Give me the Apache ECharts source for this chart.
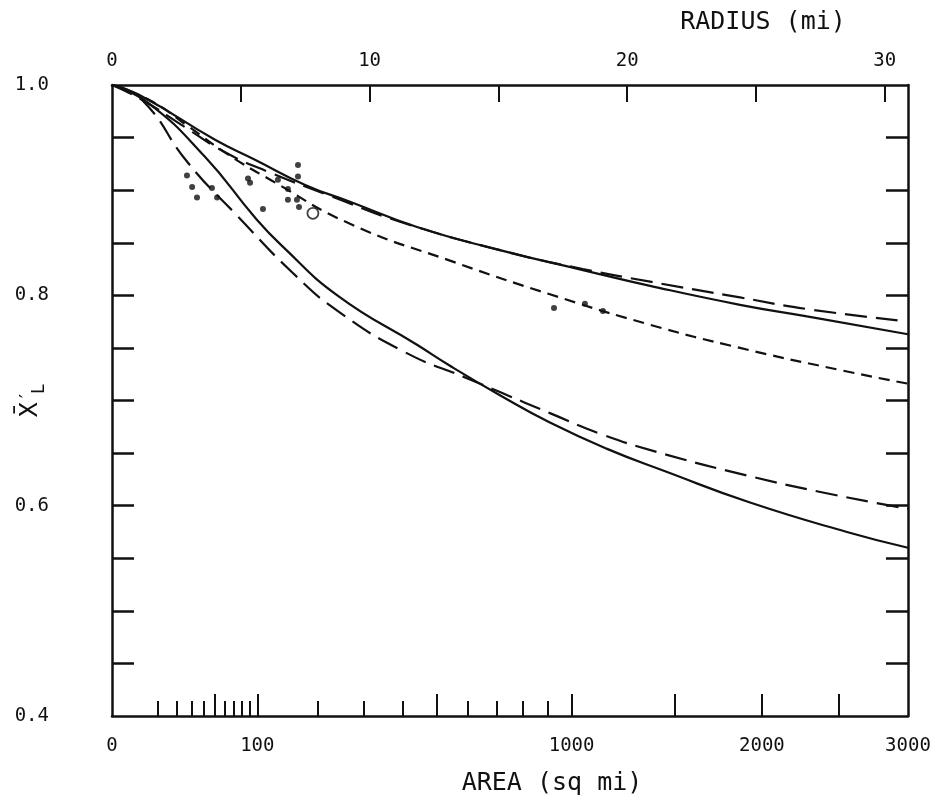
<!DOCTYPE html>
<html>
<head>
<meta charset="utf-8">
<script src="https://cdn.jsdelivr.net/npm/echarts@6/dist/echarts.min.js"></script>
<style>
  html, body { margin: 0; padding: 0; background: #fff; }
  #chart { width: 942px; height: 804px; }
</style>
</head>
<body>
<div id="chart"></div>
<script>
// x is radius (mi); the bottom axis shows the equivalent area = pi * r^2
const areaLabels = [0, 100, 1000, 2000, 3000];
const areaMinorTicks = [10, 20, 30, 40, 60, 70, 80, 90, 200, 300, 400, 600, 700, 800, 900];
const areaMajorTicks = [50, 100, 500, 1000, 1500, 2000, 2500];
const radiusLabels = [0, 10, 20, 30];
const radiusTicks = [5, 10, 15, 20, 25, 30];
const yLabels = [0.4, 0.6, 0.8, 1.0];
const yTicks = [0.45, 0.5, 0.55, 0.6, 0.65, 0.7, 0.75, 0.8, 0.85, 0.9, 0.95];

// [radius, value]
const upperSolid = [[0, 1.0], [1.1, 0.990], [4.0, 0.948], [5.55, 0.929], [7.5, 0.905], [9.24, 0.889], [11.84, 0.865], [15.06, 0.843], [18.28, 0.824], [20.89, 0.809], [24.38, 0.791], [26.98, 0.780], [30.9, 0.763]];
const upperLongDash = [[0, 1.0], [1.16, 0.986], [2.83, 0.960], [4.39, 0.936], [6.21, 0.916], [8.54, 0.894], [11.18, 0.870], [15.06, 0.843], [18.28, 0.825], [20.89, 0.813], [24.38, 0.798], [26.98, 0.787], [30.6, 0.776]];
const shortDash = [[0, 1.0], [1.5, 0.985], [3.0, 0.960], [4.5, 0.934], [6.21, 0.909], [9.24, 0.868], [13.12, 0.833], [17.0, 0.801], [20.89, 0.772], [24.38, 0.750], [28.26, 0.729], [30.9, 0.716]];
const lowerSolid = [[0, 1.0], [1.4, 0.983], [3.6, 0.932], [5.55, 0.874], [6.6, 0.847], [8.8, 0.799], [11.84, 0.753], [13.12, 0.733], [15.06, 0.705], [17.0, 0.679], [19.22, 0.654], [21.55, 0.632], [24.77, 0.603], [28.53, 0.575], [30.9, 0.560]];
const lowerLongDash = [[0, 1.0], [1.16, 0.986], [2.95, 0.926], [4.89, 0.875], [6.99, 0.822], [8.77, 0.785], [11.37, 0.746], [13.8, 0.721], [15.06, 0.708], [17.0, 0.688], [19.0, 0.668], [21.16, 0.651], [24.77, 0.628], [27.5, 0.613], [30.9, 0.597]];
const observed = [[2.91, 0.914], [3.11, 0.903], [3.30, 0.893], [3.88, 0.902], [4.08, 0.893], [5.28, 0.911], [5.36, 0.907], [5.86, 0.882], [6.44, 0.910], [6.83, 0.901], [6.83, 0.891], [7.22, 0.924], [7.22, 0.913], [7.18, 0.891], [7.26, 0.884], [17.16, 0.788], [18.36, 0.792], [19.06, 0.785]];
const openPoint = [[7.80, 0.878]];

const rOf = (area) => Math.sqrt(area / Math.PI);
const rMax = rOf(3000);
const font = "'DejaVu Sans Mono', monospace";
const ink = "#111";

const chart = echarts.init(document.getElementById("chart"));

const baseX = {
  type: "value",
  min: 0,
  max: rMax,
  splitLine: { show: false },
  axisLine: { onZero: false, lineStyle: { color: ink, width: 2.5 } },
};

const baseY = {
  type: "value",
  min: 0.4,
  max: 1.0,
  splitLine: { show: false },
  axisLine: { onZero: false, lineStyle: { color: ink, width: 2.5 } },
  axisTick: { inside: true, length: 22, customValues: yTicks, lineStyle: { color: ink, width: 2.5 } },
};

function lineSeries(data, dash) {
  return {
    type: "line",
    data: data,
    smooth: 0.5,
    symbol: "none",
    lineStyle: { color: ink, width: 2.2, type: dash },
    z: 3,
  };
}

const option = {
  animation: false,
  backgroundColor: "#fff",
  grid: { left: 112, right: 34, top: 85, bottom: 88, outerBoundsMode: "none", containLabel: false },
  xAxis: [
    Object.assign({}, baseX, {
      position: "bottom",
      name: "AREA (sq mi)",
      nameLocation: "middle",
      nameGap: 55,
      nameMoveOverlap: false,
      nameTextStyle: { fontFamily: font, fontSize: 25, color: ink, padding: [0, 0, 0, 84] },
      axisTick: { inside: true, length: 15, customValues: areaMinorTicks.map(rOf), lineStyle: { color: ink, width: 2 } },
      axisLabel: {
        customValues: areaLabels.map(rOf),
        formatter: (v) => String(Math.round(Math.PI * v * v)),
        fontFamily: font, fontSize: 19, color: ink, margin: 21,
      },
    }),
    Object.assign({}, baseX, {
      position: "bottom",
      axisLine: { show: false },
      axisTick: { inside: true, length: 22, customValues: areaMajorTicks.map(rOf), lineStyle: { color: ink, width: 2 } },
      axisLabel: { show: false },
    }),
    Object.assign({}, baseX, {
      position: "top",
      name: "RADIUS (mi)",
      nameLocation: "middle",
      nameGap: 50,
      nameMoveOverlap: false,
      nameTextStyle: { fontFamily: font, fontSize: 25, color: ink, padding: [0, 0, 0, 506] },
      axisTick: { inside: true, length: 17, customValues: radiusTicks, lineStyle: { color: ink, width: 2 } },
      axisLabel: {
        customValues: radiusLabels,
        fontFamily: font, fontSize: 19, color: ink, margin: 14,
      },
    }),
  ],
  yAxis: [
    Object.assign({}, baseY, {
      position: "left",
      axisLabel: {
        customValues: yLabels,
        formatter: (v) => v.toFixed(1),
        fontFamily: font, fontSize: 19, color: ink, margin: 63,
      },
      name: "{x|X̄}{p|′}{s|L}",
      nameLocation: "middle",
      nameRotate: 90,
      nameGap: 64,
      nameMoveOverlap: false,
      nameTextStyle: {
        color: ink,
        rich: {
          x: { fontFamily: font, fontSize: 25, lineHeight: 30, verticalAlign: "top", color: ink },
          p: { fontFamily: font, fontSize: 20, lineHeight: 20, verticalAlign: "top", color: ink },
          s: { fontFamily: font, fontSize: 17, lineHeight: 17, verticalAlign: "bottom", color: ink, padding: [0, 0, 0, -4] },
        },
      },
    }),
    Object.assign({}, baseY, {
      position: "right",
      axisLabel: { show: false },
    }),
  ],
  series: [
    lineSeries(upperSolid, "solid"),
    lineSeries(upperLongDash, [22, 9]),
    lineSeries(shortDash, [11, 7]),
    lineSeries(lowerSolid, "solid"),
    lineSeries(lowerLongDash, [22, 9]),
    {
      type: "scatter",
      data: observed,
      symbol: "circle",
      symbolSize: 6,
      itemStyle: { color: ink },
      z: 4,
    },
    {
      type: "scatter",
      data: openPoint,
      symbol: "circle",
      symbolSize: 11,
      itemStyle: { color: "#fff", borderColor: ink, borderWidth: 1.8 },
      z: 4,
    },
  ],
};

chart.setOption(option);
window.addEventListener("resize", chart.resize);
</script>
</body>
</html>
